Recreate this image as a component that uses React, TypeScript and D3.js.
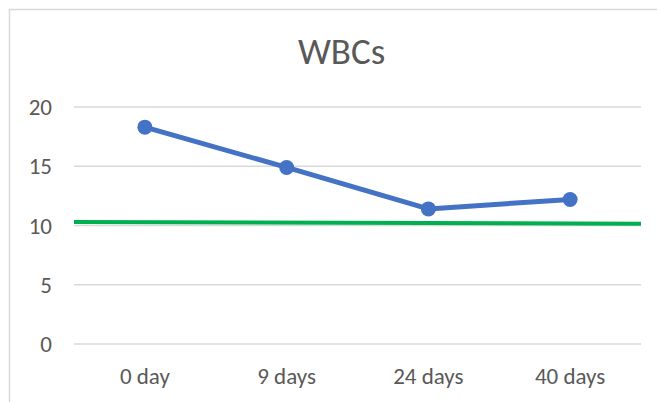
import * as d3 from "d3";

const categories = ["0 day", "9 days", "24 days", "40 days"];
const wbcValues = [18.3, 14.9, 11.4, 12.2];
// green reference line, value at the left and right edge of the plot
const refValues = [10.3, 10.15];
const yTicks = [0, 5, 10, 15, 20];

const W = 657;
const H = 402;
const font = "Carlito, Calibri, Lato, sans-serif";

export default function App() {
  const margin = { top: 107, right: 16, bottom: 58, left: 74 };
  const innerW = W - margin.left - margin.right;
  const innerH = H - margin.top - margin.bottom;

  const x = d3.scaleBand().domain(categories).range([0, innerW]).padding(0);
  const y = d3.scaleLinear().domain([0, 20]).range([innerH, 0]);
  const cx = (c: string) => (x(c) ?? 0) + x.bandwidth() / 2;

  const line = d3
    .line<number>()
    .x((_, i) => cx(categories[i]))
    .y((d) => y(d));

  const refX = d3.scaleLinear().domain([0, refValues.length - 1]).range([0, innerW]);
  const refLine = d3
    .line<number>()
    .x((_, i) => refX(i))
    .y((d) => y(d));

  return (
    <svg
      width={W}
      height={H}
      style={{ position: "absolute", left: 0, top: 0, background: "#fff" }}
    >
      <rect x={9.5} y={9.5} width={700} height={500} fill="#fff" stroke="#d9d9d9" strokeWidth={1.5} />
      <text
        x={W / 2 + 13}
        y={64}
        textAnchor="middle"
        fontFamily={font}
        fontSize={37}
        fill="#595959"
      >
        WBCs
      </text>
      <g transform={`translate(${margin.left},${margin.top})`}>
        {yTicks.map((t) => (
          <g key={t}>
            <line x1={0} x2={innerW} y1={y(t)} y2={y(t)} stroke="#d9d9d9" strokeWidth={1.5} />
            <text
              x={-22}
              y={y(t)}
              dy="0.35em"
              textAnchor="end"
              fontFamily={font}
              fontSize={23}
              fill="#595959"
            >
              {t}
            </text>
          </g>
        ))}
        {categories.map((c) => (
          <text
            key={c}
            x={cx(c)}
            y={innerH + 40}
            textAnchor="middle"
            fontFamily={font}
            fontSize={23}
            fill="#595959"
          >
            {c}
          </text>
        ))}
        <path d={refLine(refValues) ?? ""} fill="none" stroke="#00b050" strokeWidth={4} />
        <path d={line(wbcValues) ?? ""} fill="none" stroke="#4472c4" strokeWidth={5} strokeLinejoin="round" />
        {wbcValues.map((v, i) => (
          <circle key={i} cx={cx(categories[i])} cy={y(v)} r={7.5} fill="#4472c4" />
        ))}
      </g>
    </svg>
  );
}
